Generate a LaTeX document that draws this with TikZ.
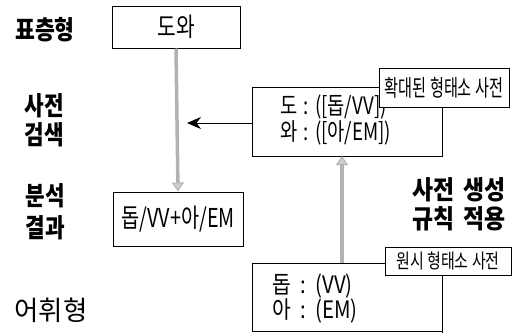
\documentclass[tikz,border=0pt]{standalone}
\usepackage{fontspec}
\setmainfont{Noto Sans CJK KR}
\usetikzlibrary{arrows.meta}
\newcommand\cnd[2]{\scalebox{#1}[1]{#2}}
\begin{document}
\begin{tikzpicture}[x=1pt,y=-1pt,
  lbl/.style={font=\fontsize{26}{26}\selectfont\bfseries, inner sep=0pt},
  plainlbl/.style={font=\fontsize{27}{27}\selectfont, inner sep=0pt},
  boxtxt/.style={font=\fontsize{24}{24}\selectfont, inner sep=0pt, anchor=west},
  frame/.style={draw=black, line width=1pt},
  tag/.style={draw=black, fill=white, line width=1pt, inner sep=0pt},
  grayarrow/.style={draw=gray!60, line width=3.5pt, -{Triangle[length=9pt,width=12pt,fill=gray!40,color=gray!60,line width=0.8pt]}}
]
\useasboundingbox[fill=white] (0,0) rectangle (518,333);
% left labels
\node[lbl] (surf) at (45,30) {\cnd{0.83}{표층형}};
\node[lbl] (srch1) at (44,106) {\cnd{0.82}{사전}};
\node[lbl] (srch2) at (44,135) {\cnd{0.82}{검색}};
\node[lbl] (res1) at (45,196) {\cnd{0.82}{분석}};
\node[lbl] (res2) at (45,228) {\cnd{0.82}{결과}};
\node[plainlbl] (lex) at (51,310) {\cnd{0.98}{어휘형}};
% right labels
\node[lbl] (rule1) at (459,190) {\cnd{0.88}{사전\hspace{0.4em}생성}};
\node[lbl] (rule2) at (459,219) {\cnd{0.88}{규칙\hspace{0.4em}적용}};
% top box
\node[frame, minimum width=128pt, minimum height=42pt, inner sep=0pt, font=\fontsize{26}{26}\selectfont] (top) at (176,27) {\cnd{0.78}{도와}};
% result box
\node[frame, minimum width=130pt, minimum height=54pt, inner sep=0pt, font=\fontsize{26}{26}\selectfont] (out) at (178,219) {\cnd{0.76}{돕/VV+아/EM}};
% middle (expanded dictionary) box
\draw[frame] (252,87) rectangle (442,156);
\coordinate (midL) at (252,123);
\coordinate (midB) at (342,156);
\node[boxtxt] (m1) at (280,107) {\cnd{0.78}{도\hspace{8pt}:\hspace{8pt}([돕/VV])}};
\node[boxtxt] (m2) at (280,133) {\cnd{0.78}{와\hspace{8pt}:\hspace{8pt}([아/EM])}};
\node[tag, minimum width=130pt, minimum height=39pt, font=\fontsize{23}{23}\selectfont] (tag1) at (444,87.5) {\cnd{0.66}{확대된 형태소 사전}};
% bottom (original dictionary) box
\draw[frame] (252,263) rectangle (442,331);
\draw[frame] (442,331) -- (442,333);
\coordinate (botT) at (342,263);
\node[boxtxt] (b1) at (272,286) {\cnd{0.85}{돕\hspace{11pt}:\hspace{11pt}(VV)}};
\node[boxtxt] (b2) at (272,311) {\cnd{0.85}{아\hspace{11pt}:\hspace{11pt}(EM)}};
\node[tag, minimum width=126pt, minimum height=28pt, font=\fontsize{20}{20}\selectfont] (tag2) at (448,261) {\cnd{0.75}{원시 형태소 사전}};
% connectors
\draw[grayarrow] (top.south) -- (out.north);
\draw[grayarrow] (botT) -- (midB);
\draw[line width=1pt, -{Stealth[length=14pt,width=12pt]}] (midL) -- (187,123) coordinate (arrEnd);
\end{tikzpicture}
\end{document}
